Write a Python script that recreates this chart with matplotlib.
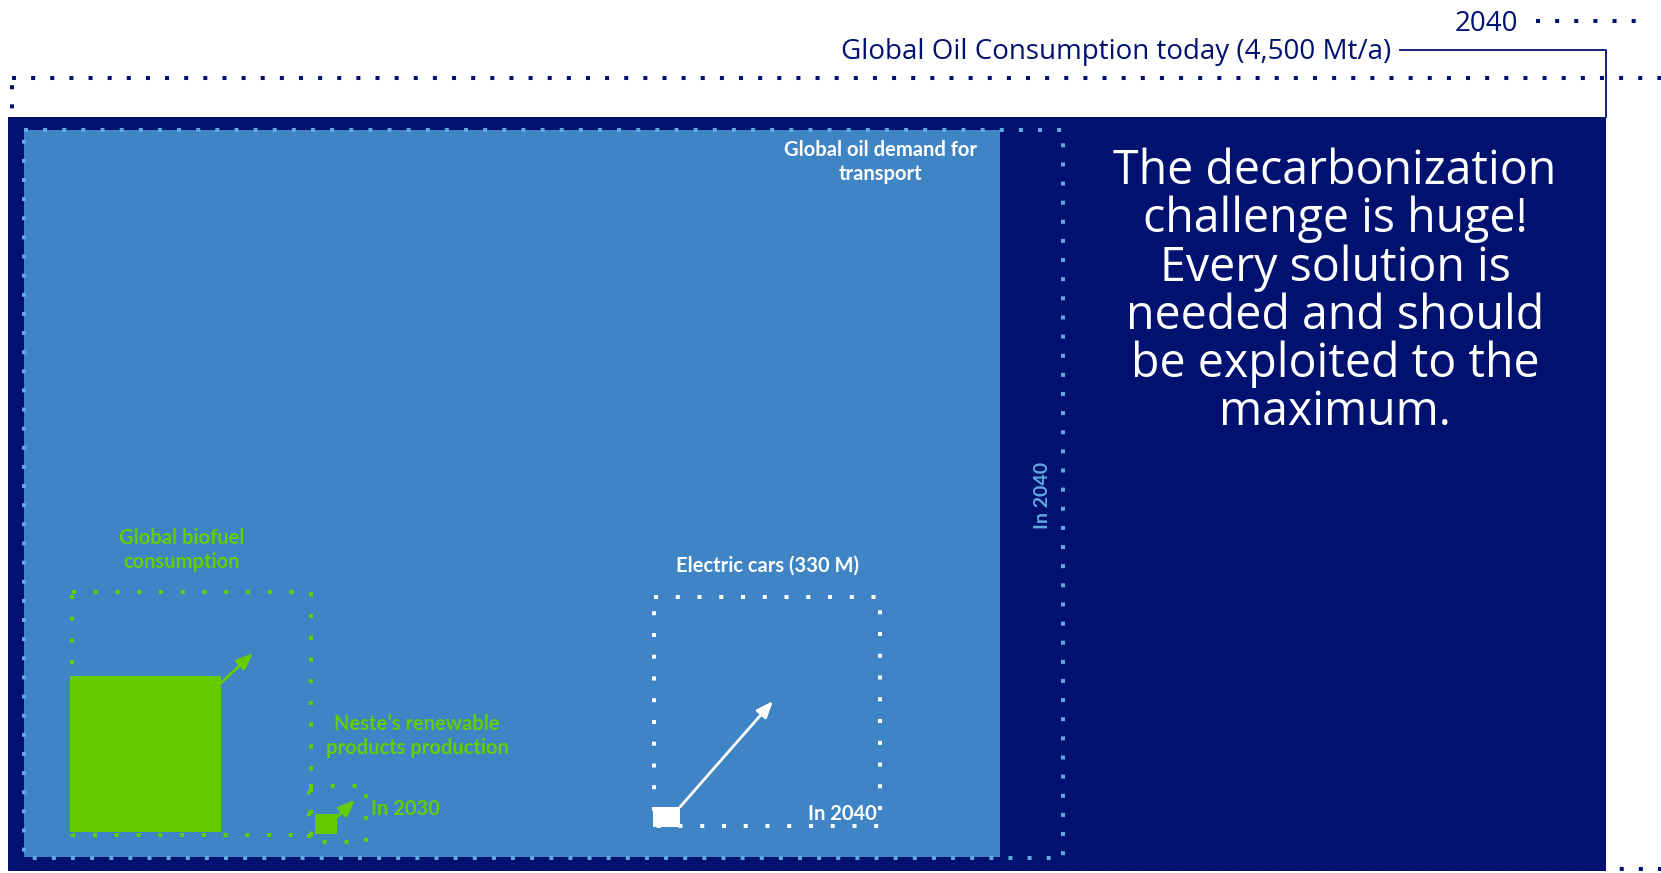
import matplotlib
matplotlib.use('Agg')
import matplotlib.pyplot as plt
from matplotlib.patches import Rectangle

# colours
NAVY = '#00116f'
BLUE = '#3f84c5'
DOT_BLUE = '#5fa8e0'
GREEN = '#66cc00'
WHITE = '#ffffff'

plt.rcParams['font.family'] = ['Open Sans', 'DejaVu Sans']
LABEL_FONT = ['Lato', 'DejaVu Sans']

# canvas is laid out in pixel units of the original picture
W, H = 1661, 873

# boxes as (x0, y0, x1, y1)
oil_2040_box = [12, 78, 1700, 869]
oil_today_fill = [8, 117, 1606, 871]
transport_fill = [24, 130, 1000, 857]
transport_2040_box = [24, 130, 1063, 858]
biofuel_fill = [70, 676, 221, 832]
biofuel_box = [72, 592, 311, 835]
neste_fill = [315, 814, 337, 834]
neste_box = [309, 786, 366, 842]
ev_fill = [653, 807, 680, 827]
ev_box = [654, 597, 880, 826]

# growth arrows (from, to)
biofuel_arrow = [(221, 683), (253, 653)]
neste_arrow = [(337, 817), (355, 800)]
ev_arrow = [(680, 807), (773, 701)]

# labels
oil_today_label = 'Global Oil Consumption today (4,500 Mt/a)'
oil_2040_label = '2040'
transport_label = 'Global oil demand for\ntransport'
biofuel_label = 'Global biofuel\nconsumption'
neste_label = 'Neste\u2019s renewable\nproducts production'
ev_label = 'Electric cars (330 M)'
message = ('The decarbonization\nchallenge is huge!\nEvery solution is\n'
           'needed and should\nbe exploited to the\nmaximum.')


def fill_box(ax, b, color, z):
    ax.add_patch(Rectangle((b[0], b[1]), b[2] - b[0], b[3] - b[1],
                           facecolor=color, edgecolor='none', zorder=z))


def dot_box(ax, b, color, z, gap=3.75, lw=2.9):
    ax.plot([b[0], b[2], b[2], b[0], b[0]], [b[1], b[1], b[3], b[3], b[1]],
            color=color, lw=lw, linestyle=(0, (1, gap)), zorder=z)


def arrow(ax, a, color, z):
    ax.annotate('', xy=a[1], xytext=a[0], zorder=z,
                arrowprops=dict(arrowstyle='-|>,head_length=1.0,head_width=0.4',
                                color=color, lw=2, shrinkA=0, shrinkB=0))


fig = plt.figure(figsize=(W / 100, H / 100), dpi=100)
ax = fig.add_axes([0, 0, 1, 1])
ax.set_xlim(0, W)
ax.set_ylim(H, 0)
ax.axis('off')

# 2040 outline and today's consumption
dot_box(ax, oil_2040_box, NAVY, 1, gap=3.75)
fill_box(ax, oil_today_fill, NAVY, 2)
ax.plot([1400, 1606, 1606], [50, 50, 117], color=NAVY, lw=1.3, zorder=3)
ax.text(1391, 52, oil_today_label, color=NAVY, fontsize=20,
        ha='right', va='center')
ax.text(1518, 24, oil_2040_label, color=NAVY, fontsize=20,
        ha='right', va='center')
ax.plot([1536, 1650], [21, 21], color=NAVY, lw=2.9, linestyle=(0, (1, 3.75)), zorder=3)

# transport
fill_box(ax, transport_fill, BLUE, 3)
dot_box(ax, transport_2040_box, DOT_BLUE, 4)
ax.text(880, 162, transport_label, color=WHITE, fontsize=14.5, weight='bold',
        ha='center', va='center', linespacing=1.3, family=LABEL_FONT)
ax.text(1043, 495, 'In 2040', color=DOT_BLUE, fontsize=14, weight='bold',
        ha='center', va='center', rotation=90, family=LABEL_FONT)

# biofuel
fill_box(ax, biofuel_fill, GREEN, 5)
dot_box(ax, biofuel_box, GREEN, 6, gap=4.4)
arrow(ax, biofuel_arrow, GREEN, 7)
ax.text(182, 550, biofuel_label, color=GREEN, fontsize=14.5, weight='bold',
        ha='center', va='center', linespacing=1.3, family=LABEL_FONT)

# neste
fill_box(ax, neste_fill, GREEN, 5)
dot_box(ax, neste_box, GREEN, 6, gap=4.4)
arrow(ax, neste_arrow, GREEN, 7)
ax.text(417, 736, neste_label, color=GREEN, fontsize=14.5, weight='bold',
        ha='center', va='center', linespacing=1.3, family=LABEL_FONT)
ax.text(371, 809, 'In 2030', color=GREEN, fontsize=14.5, weight='bold',
        ha='left', va='center', family=LABEL_FONT)

# electric cars
fill_box(ax, ev_fill, WHITE, 5)
dot_box(ax, ev_box, WHITE, 6, gap=4.4)
arrow(ax, ev_arrow, WHITE, 7)
ax.text(767, 566, ev_label, color=WHITE, fontsize=14.5, weight='bold',
        ha='center', va='center', family=LABEL_FONT)
ax.text(877, 814, 'In 2040', color=WHITE, fontsize=14.5, weight='bold',
        ha='right', va='center', family=LABEL_FONT)

# message
ax.text(1335, 292, message, color=WHITE, fontsize=33.5, ha='center', va='center',
        linespacing=1.02)

fig.savefig('out.png', dpi=100)
